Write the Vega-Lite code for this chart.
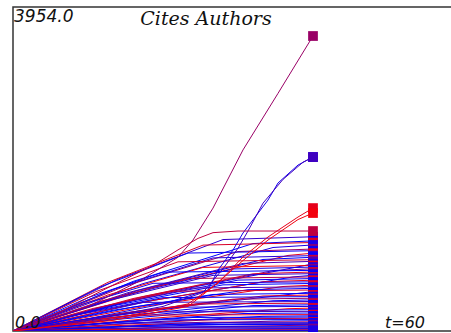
{
  "$schema": "https://vega.github.io/schema/vega-lite/v6.json",
  "autosize": {"type": "none"},
  "padding": {"left": 13, "top": 7, "right": 0, "bottom": 1},
  "width": 446,
  "height": 324,
  "background": "white",
  "config": {"view": {"stroke": "#333", "strokeWidth": 1.5}},
  "datasets": {
    "meta": [
      {"id":1,"c":0.2},{"id":2,"c":0.0},{"id":3,"c":0.85},{"id":4,"c":0.1},{"id":5,"c":0.6},{"id":6,"c":0.05},{"id":7,"c":0.9},{"id":8,"c":0.15},{"id":9,"c":0.0},{"id":10,"c":0.8},
      {"id":11,"c":0.3},{"id":12,"c":0.05},{"id":13,"c":0.95},{"id":14,"c":0.1},{"id":15,"c":0.5},{"id":16,"c":0.0},{"id":17,"c":0.85},{"id":18,"c":0.2},{"id":19,"c":0.0},{"id":20,"c":0.7},
      {"id":21,"c":0.05},{"id":22,"c":0.9},{"id":23,"c":0.1},{"id":24,"c":0.0},{"id":25,"c":0.95},{"id":26,"c":0.3},{"id":27,"c":0.0},{"id":28,"c":0.8},{"id":29,"c":0.1},{"id":30,"c":0.0},
      {"id":31,"c":0.9},{"id":32,"c":0.05},{"id":33,"c":0.6},{"id":34,"c":0.0},{"id":35,"c":0.2},{"id":36,"c":0.85},{"id":37,"c":0.0},{"id":38,"c":0.1},{"id":39,"c":0.95},{"id":40,"c":0.0},
      {"id":41,"c":0.3},{"id":42,"c":0.0},{"id":43,"c":0.9},{"id":44,"c":0.05},{"id":45,"c":0.0},{"id":46,"c":0.7},{"id":47,"c":0.1},{"id":48,"c":0.0},{"id":49,"c":0.9},{"id":50,"c":0.0},
      {"id":51,"c":0.2},{"id":52,"c":0.0},{"id":53,"c":0.8},{"id":54,"c":0.05},{"id":55,"c":0.0},{"id":56,"c":0.3},{"id":57,"c":0.0},{"id":58,"c":0.9},{"id":59,"c":0.0},{"id":60,"c":0.1},
      {"id":101,"c":0.6},{"id":102,"c":0.08},{"id":103,"c":0.25},{"id":104,"c":0.9},{"id":105,"c":0.95},{"id":106,"c":0.75}
    ],
    "lines": [
      {"id":1,"t":0,"v":0},{"id":1,"t":21,"v":633},{"id":1,"t":42,"v":1116},{"id":1,"t":60,"v":1150},
      {"id":2,"t":0,"v":0},{"id":2,"t":24,"v":605},{"id":2,"t":48,"v":1067},{"id":2,"t":60,"v":1100},
      {"id":3,"t":0,"v":0},{"id":3,"t":19,"v":594},{"id":3,"t":38,"v":1048},{"id":3,"t":60,"v":1080},
      {"id":4,"t":0,"v":0},{"id":4,"t":26,"v":578},{"id":4,"t":52,"v":1019},{"id":4,"t":60,"v":1050},
      {"id":5,"t":0,"v":0},{"id":5,"t":22.5,"v":550},{"id":5,"t":45,"v":970},{"id":5,"t":60,"v":1000},
      {"id":6,"t":0,"v":0},{"id":6,"t":17.5,"v":539},{"id":6,"t":35,"v":951},{"id":6,"t":60,"v":980},
      {"id":7,"t":0,"v":0},{"id":7,"t":27.5,"v":523},{"id":7,"t":55,"v":922},{"id":7,"t":60,"v":950},
      {"id":8,"t":0,"v":0},{"id":8,"t":20,"v":506},{"id":8,"t":40,"v":892},{"id":8,"t":60,"v":920},
      {"id":9,"t":0,"v":0},{"id":9,"t":25,"v":495},{"id":9,"t":50,"v":873},{"id":9,"t":60,"v":900},
      {"id":10,"t":0,"v":0},{"id":10,"t":16.5,"v":479},{"id":10,"t":33,"v":844},{"id":10,"t":60,"v":870},
      {"id":11,"t":0,"v":0},{"id":11,"t":23,"v":468},{"id":11,"t":46,"v":825},{"id":11,"t":60,"v":850},
      {"id":12,"t":0,"v":0},{"id":12,"t":29,"v":451},{"id":12,"t":58,"v":795},{"id":12,"t":60,"v":820},
      {"id":13,"t":0,"v":0},{"id":13,"t":19,"v":440},{"id":13,"t":38,"v":776},{"id":13,"t":60,"v":800},
      {"id":14,"t":0,"v":0},{"id":14,"t":22,"v":429},{"id":14,"t":44,"v":757},{"id":14,"t":60,"v":780},
      {"id":15,"t":0,"v":0},{"id":15,"t":26,"v":418},{"id":15,"t":52,"v":737},{"id":15,"t":60,"v":760},
      {"id":16,"t":0,"v":0},{"id":16,"t":15,"v":407},{"id":16,"t":30,"v":718},{"id":16,"t":60,"v":740},
      {"id":17,"t":0,"v":0},{"id":17,"t":24,"v":396},{"id":17,"t":48,"v":698},{"id":17,"t":60,"v":720},
      {"id":18,"t":0,"v":0},{"id":18,"t":20,"v":385},{"id":18,"t":40,"v":679},{"id":18,"t":60,"v":700},
      {"id":19,"t":0,"v":0},{"id":19,"t":28,"v":374},{"id":19,"t":56,"v":660},{"id":19,"t":60,"v":680},
      {"id":20,"t":0,"v":0},{"id":20,"t":17.5,"v":363},{"id":20,"t":35,"v":640},{"id":20,"t":60,"v":660},
      {"id":21,"t":0,"v":0},{"id":21,"t":22.5,"v":352},{"id":21,"t":45,"v":621},{"id":21,"t":60,"v":640},
      {"id":22,"t":0,"v":0},{"id":22,"t":25,"v":341},{"id":22,"t":50,"v":601},{"id":22,"t":60,"v":620},
      {"id":23,"t":0,"v":0},{"id":23,"t":14,"v":330},{"id":23,"t":28,"v":582},{"id":23,"t":60,"v":600},
      {"id":24,"t":0,"v":0},{"id":24,"t":21,"v":319},{"id":24,"t":42,"v":563},{"id":24,"t":60,"v":580},
      {"id":25,"t":0,"v":0},{"id":25,"t":27,"v":308},{"id":25,"t":54,"v":543},{"id":25,"t":60,"v":560},
      {"id":26,"t":0,"v":0},{"id":26,"t":18,"v":297},{"id":26,"t":36,"v":524},{"id":26,"t":60,"v":540},
      {"id":27,"t":0,"v":0},{"id":27,"t":23.5,"v":286},{"id":27,"t":47,"v":504},{"id":27,"t":60,"v":520},
      {"id":28,"t":0,"v":0},{"id":28,"t":16,"v":275},{"id":28,"t":32,"v":485},{"id":28,"t":60,"v":500},
      {"id":29,"t":0,"v":0},{"id":29,"t":29,"v":264},{"id":29,"t":58,"v":466},{"id":29,"t":60,"v":480},
      {"id":30,"t":0,"v":0},{"id":30,"t":20,"v":253},{"id":30,"t":40,"v":446},{"id":30,"t":60,"v":460},
      {"id":31,"t":0,"v":0},{"id":31,"t":25,"v":242},{"id":31,"t":50,"v":427},{"id":31,"t":60,"v":440},
      {"id":32,"t":0,"v":0},{"id":32,"t":15,"v":231},{"id":32,"t":30,"v":407},{"id":32,"t":60,"v":420},
      {"id":33,"t":0,"v":0},{"id":33,"t":22,"v":220},{"id":33,"t":44,"v":388},{"id":33,"t":60,"v":400},
      {"id":34,"t":0,"v":0},{"id":34,"t":26,"v":209},{"id":34,"t":52,"v":369},{"id":34,"t":60,"v":380},
      {"id":35,"t":0,"v":0},{"id":35,"t":13,"v":198},{"id":35,"t":26,"v":349},{"id":35,"t":60,"v":360},
      {"id":36,"t":0,"v":0},{"id":36,"t":19,"v":187},{"id":36,"t":38,"v":330},{"id":36,"t":60,"v":340},
      {"id":37,"t":0,"v":0},{"id":37,"t":24,"v":176},{"id":37,"t":48,"v":310},{"id":37,"t":60,"v":320},
      {"id":38,"t":0,"v":0},{"id":38,"t":17,"v":165},{"id":38,"t":34,"v":291},{"id":38,"t":60,"v":300},
      {"id":39,"t":0,"v":0},{"id":39,"t":27.5,"v":154},{"id":39,"t":55,"v":272},{"id":39,"t":60,"v":280},
      {"id":40,"t":0,"v":0},{"id":40,"t":21,"v":143},{"id":40,"t":42,"v":252},{"id":40,"t":60,"v":260},
      {"id":41,"t":0,"v":0},{"id":41,"t":15,"v":132},{"id":41,"t":30,"v":233},{"id":41,"t":60,"v":240},
      {"id":42,"t":0,"v":0},{"id":42,"t":23,"v":121},{"id":42,"t":46,"v":213},{"id":42,"t":60,"v":220},
      {"id":43,"t":0,"v":0},{"id":43,"t":12,"v":110},{"id":43,"t":24,"v":194},{"id":43,"t":60,"v":200},
      {"id":44,"t":0,"v":0},{"id":44,"t":25,"v":102},{"id":44,"t":50,"v":179},{"id":44,"t":60,"v":185},
      {"id":45,"t":0,"v":0},{"id":45,"t":18,"v":94},{"id":45,"t":36,"v":165},{"id":45,"t":60,"v":170},
      {"id":46,"t":0,"v":0},{"id":46,"t":22,"v":85},{"id":46,"t":44,"v":150},{"id":46,"t":60,"v":155},
      {"id":47,"t":0,"v":0},{"id":47,"t":14,"v":77},{"id":47,"t":28,"v":136},{"id":47,"t":60,"v":140},
      {"id":48,"t":0,"v":0},{"id":48,"t":26,"v":69},{"id":48,"t":52,"v":121},{"id":48,"t":60,"v":125},
      {"id":49,"t":0,"v":0},{"id":49,"t":19,"v":61},{"id":49,"t":38,"v":107},{"id":49,"t":60,"v":110},
      {"id":50,"t":0,"v":0},{"id":50,"t":10,"v":55},{"id":50,"t":20,"v":97},{"id":50,"t":60,"v":100},
      {"id":51,"t":0,"v":0},{"id":51,"t":23,"v":50},{"id":51,"t":46,"v":87},{"id":51,"t":60,"v":90},
      {"id":52,"t":0,"v":0},{"id":52,"t":16,"v":44},{"id":52,"t":32,"v":78},{"id":52,"t":60,"v":80},
      {"id":53,"t":0,"v":0},{"id":53,"t":28,"v":39},{"id":53,"t":56,"v":68},{"id":53,"t":60,"v":70},
      {"id":54,"t":0,"v":0},{"id":54,"t":12.5,"v":33},{"id":54,"t":25,"v":58},{"id":54,"t":60,"v":60},
      {"id":55,"t":0,"v":0},{"id":55,"t":20,"v":28},{"id":55,"t":40,"v":49},{"id":55,"t":60,"v":50},
      {"id":56,"t":0,"v":0},{"id":56,"t":15,"v":22},{"id":56,"t":30,"v":39},{"id":56,"t":60,"v":40},
      {"id":57,"t":0,"v":0},{"id":57,"t":25,"v":17},{"id":57,"t":50,"v":29},{"id":57,"t":60,"v":30},
      {"id":58,"t":0,"v":0},{"id":58,"t":9,"v":11},{"id":58,"t":18,"v":19},{"id":58,"t":60,"v":20},
      {"id":59,"t":0,"v":0},{"id":59,"t":17.5,"v":6},{"id":59,"t":35,"v":10},{"id":59,"t":60,"v":10},
      {"id":60,"t":0,"v":0},{"id":60,"t":10,"v":3},{"id":60,"t":20,"v":5},{"id":60,"t":60,"v":5},
      {"id":101,"t":0,"v":0},{"id":101,"t":15,"v":300},{"id":101,"t":25,"v":600},{"id":101,"t":33,"v":900},{"id":101,"t":36,"v":1110},{"id":101,"t":40,"v":1500},{"id":101,"t":46,"v":2210},{"id":101,"t":53,"v":2900},{"id":101,"t":60,"v":3600},
      {"id":102,"t":0,"v":0},{"id":102,"t":15,"v":150},{"id":102,"t":30,"v":330},{"id":102,"t":39,"v":500},{"id":102,"t":41,"v":744},{"id":102,"t":44,"v":988},{"id":102,"t":46,"v":1196},{"id":102,"t":51,"v":1598},{"id":102,"t":53,"v":1806},{"id":102,"t":57,"v":2025},{"id":102,"t":60,"v":2123},
      {"id":103,"t":0,"v":0},{"id":103,"t":15,"v":130},{"id":103,"t":30,"v":300},{"id":103,"t":38,"v":470},{"id":103,"t":42,"v":760},{"id":103,"t":45,"v":1010},{"id":103,"t":47,"v":1220},{"id":103,"t":50,"v":1560},{"id":103,"t":54,"v":1850},{"id":103,"t":58,"v":2060},{"id":103,"t":60,"v":2123},
      {"id":104,"t":0,"v":0},{"id":104,"t":20,"v":150},{"id":104,"t":35,"v":330},{"id":104,"t":41,"v":586},{"id":104,"t":46,"v":903},{"id":104,"t":51,"v":1147},{"id":104,"t":57,"v":1391},{"id":104,"t":60,"v":1500},
      {"id":105,"t":0,"v":0},{"id":105,"t":20,"v":130},{"id":105,"t":35,"v":300},{"id":105,"t":40,"v":540},{"id":105,"t":46,"v":860},{"id":105,"t":51,"v":1110},{"id":105,"t":57,"v":1360},{"id":105,"t":60,"v":1440},
      {"id":106,"t":0,"v":0},{"id":106,"t":10,"v":250},{"id":106,"t":20,"v":560},{"id":106,"t":28,"v":800},{"id":106,"t":33,"v":990},{"id":106,"t":37,"v":1130},{"id":106,"t":40,"v":1200},{"id":106,"t":45,"v":1220},{"id":106,"t":60,"v":1220}
    ],
    "labels": [
      {"label":"Cites Authors","t":38.6,"v":3954,"kind":"title"},
      {"label":"3954.0","t":0,"v":3954,"kind":"max"},
      {"label":"0.0","t":0,"v":0,"kind":"min"},
      {"label":"t=60","t":74,"v":0,"kind":"time"}
    ]
  },
  "layer": [
    {
      "data": {"name": "lines"},
      "transform": [{"lookup": "id", "from": {"data": {"name": "meta"}, "key": "id", "fields": ["c"]}}],
      "mark": {"type": "line", "strokeWidth": 1, "clip": true},
      "encoding": {
        "x": {"field": "t", "type": "quantitative", "scale": {"domain": [0, 89.2], "nice": false}, "axis": null},
        "y": {"field": "v", "type": "quantitative", "scale": {"domain": [0, 3954], "nice": false}, "axis": null},
        "detail": {"field": "id", "type": "nominal"},
        "order": {"field": "t", "type": "quantitative"},
        "color": {"field": "c", "type": "quantitative", "scale": {"domain": [0, 1], "range": ["#0000ff", "#ff0000"], "interpolate": "rgb"}, "legend": null}
      }
    },
    {
      "data": {"name": "lines"},
      "transform": [
        {"filter": "datum.t == 60"},
        {"lookup": "id", "from": {"data": {"name": "meta"}, "key": "id", "fields": ["c"]}}
      ],
      "mark": {"type": "square", "size": 95, "opacity": 1, "filled": true},
      "encoding": {
        "x": {"field": "t", "type": "quantitative"},
        "y": {"field": "v", "type": "quantitative"},
        "color": {"field": "c", "type": "quantitative", "legend": null}
      }
    },
    {
      "data": {"name": "labels"},
      "transform": [{"filter": "datum.kind == 'title'"}],
      "mark": {"type": "text", "font": "DejaVu Serif", "fontStyle": "italic", "fontSize": 19, "align": "center", "baseline": "alphabetic", "dy": 18, "color": "#111"},
      "encoding": {
        "x": {"field": "t", "type": "quantitative"},
        "y": {"field": "v", "type": "quantitative"},
        "text": {"field": "label"}
      }
    },
    {
      "data": {"name": "labels"},
      "transform": [{"filter": "datum.kind == 'max'"}],
      "mark": {"type": "text", "font": "DejaVu Sans", "fontStyle": "italic", "fontSize": 17, "align": "left", "baseline": "alphabetic", "dx": 1, "dy": 15, "color": "#111"},
      "encoding": {
        "x": {"field": "t", "type": "quantitative"},
        "y": {"field": "v", "type": "quantitative"},
        "text": {"field": "label"}
      }
    },
    {
      "data": {"name": "labels"},
      "transform": [{"filter": "datum.kind != 'max' && datum.kind != 'title'"}],
      "mark": {"type": "text", "font": "DejaVu Sans", "fontStyle": "italic", "fontSize": 16, "align": "left", "baseline": "alphabetic", "dx": 2, "dy": -3, "color": "#111"},
      "encoding": {
        "x": {"field": "t", "type": "quantitative"},
        "y": {"field": "v", "type": "quantitative"},
        "text": {"field": "label"}
      }
    }
  ]
}
